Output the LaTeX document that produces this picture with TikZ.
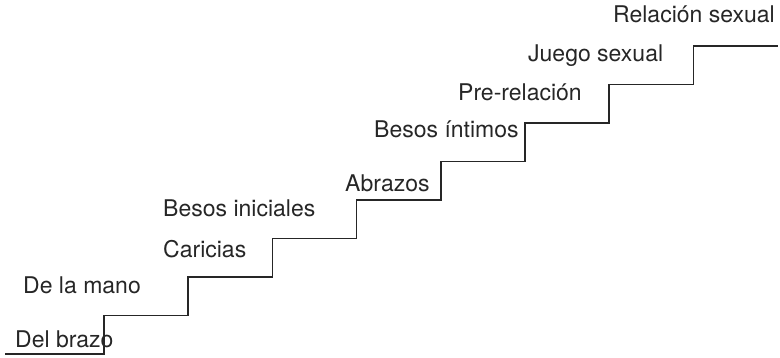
\documentclass[tikz,border=0pt]{standalone}
\usepackage{fontspec}
\setmainfont{TeX Gyre Heros}
\begin{document}
\begin{tikzpicture}[x=1pt, y=1pt,
  stair/.style={line width=1.6pt, draw=black!85},
  steplabel/.style={anchor=base west, inner sep=0pt, text=black!85, font=\fontsize{23}{28}\selectfont}]
% Keep the reference proportions
\useasboundingbox (0,0) rectangle (780,357);

% Draw the stairs
\draw[stair] (5,3) -| (104,41.5) -| (188.2,80) -| (272.4,118.5) -| (356.6,157)
  -| (440.8,195.5) -| (525,234) -| (609.2,272.5) -| (693.4,311) -- (778,311);

% Insert the labels
\node[steplabel] (brazo) at (15, 10) {Del brazo};
\node[steplabel] (mano) at (23, 64) {De la mano};
\node[steplabel] (caricias) at (163, 100) {Caricias};
\node[steplabel] (besosini) at (163, 141) {Besos iniciales};
\node[steplabel] (abrazos) at (345, 166) {Abrazos};
\node[steplabel] (besosint) at (374, 220) {Besos íntimos};
\node[steplabel] (prerel) at (458, 257) {Pre-relación};
\node[steplabel] (juego) at (528, 295) {Juego sexual};
\node[steplabel] (relacion) at (613, 334) {Relación sexual};
\end{tikzpicture}
\end{document}
